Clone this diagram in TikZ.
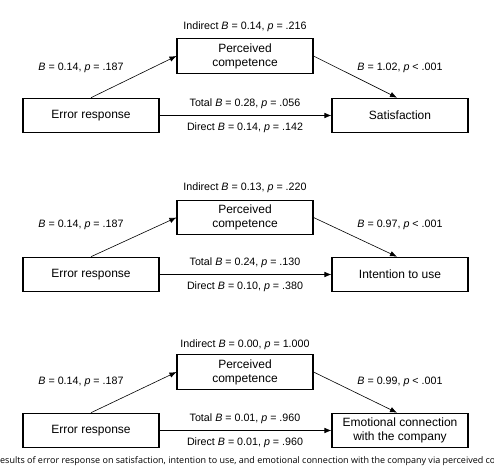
\documentclass[tikz,border=0pt]{standalone}
\usepackage{fontspec}
\setmainfont{Liberation Sans}
\newfontfamily\capfont{Open Sans}
\usetikzlibrary{arrows.meta}
\newcommand{\coef}[2]{\textit{B} = #1, \textit{p} #2}

\begin{document}
\begin{tikzpicture}[x=1pt,y=-1pt]
  \tikzset{box/.style={draw,line width=1.1pt,minimum width=136pt,minimum height=34.5pt,inner sep=2pt,align=center,font=\fontsize{12}{13.8}\selectfont},
           lab/.style={font=\fontsize{10.7}{12}\selectfont},
           arr/.style={-{Latex[length=7pt,width=5.5pt]},line width=0.6pt}}
  \clip (0,0) rectangle (494,465);
  % satisfaction
  \node[box] (ERa) at (91,115.5) {Error response};
  \node[box] (PCa) at (245,56) {Perceived\\competence};
  \node[box] (SAT) at (400,115.5) {Satisfaction};
  \node[lab] (INDa) at (245,27) {Indirect \coef{0.14}{= .216}};
  \node[lab] (APa) at (81,68) {\coef{0.14}{= .187}};
  \node[lab] (BPa) at (400,68) {\coef{1.02}{< .001}};
  \node[lab] (TOTa) at (245,104) {Total \coef{0.28}{= .056}};
  \node[lab] (DIRa) at (245,128) {Direct \coef{0.14}{= .142}};
  \draw[arr] (ERa.north) -- (PCa.west);
  \draw[arr] (PCa.east) -- ([xshift=-3pt]SAT.north);
  \draw[arr] (ERa) -- (SAT);
  % intention to use
  \begin{scope}[shift={(0,159)}]
  \node[box] (ERb) at (91,115.5) {Error response};
  \node[box] (PCb) at (245,58.5) {Perceived\\competence};
  \node[box] (INT) at (400,115.5) {Intention to use};
  \node[lab] (INDb) at (245,29) {Indirect \coef{0.13}{= .220}};
  \node[lab] (APb) at (81,66) {\coef{0.14}{= .187}};
  \node[lab] (BPb) at (400,66) {\coef{0.97}{< .001}};
  \node[lab] (TOTb) at (245,104) {Total \coef{0.24}{= .130}};
  \node[lab] (DIRb) at (245,128) {Direct \coef{0.10}{= .380}};
  \draw[arr] (ERb.north) -- (PCb.west);
  \draw[arr] (PCb.east) -- ([xshift=-3pt]INT.north);
  \draw[arr] (ERb) -- (INT);
  \end{scope}
  % emotional connection
  \begin{scope}[shift={(0,315)}]
  \node[box] (ERc) at (91,115.5) {Error response};
  \node[box] (PCc) at (245,57) {Perceived\\competence};
  \node[box] (EMO) at (400,115.5) {Emotional connection\\with the company};
  \node[lab] (INDc) at (245,30) {Indirect \coef{0.00}{= 1.000}};
  \node[lab] (APc) at (81,67) {\coef{0.14}{= .187}};
  \node[lab] (BPc) at (400,67) {\coef{0.99}{< .001}};
  \node[lab] (TOTc) at (245,104) {Total \coef{0.01}{= .960}};
  \node[lab] (DIRc) at (245,128) {Direct \coef{0.01}{= .960}};
  \draw[arr] (ERc.north) -- (PCc.west);
  \draw[arr] (PCc.east) -- ([xshift=-3pt]EMO.north);
  \draw[arr] (ERc) -- (EMO);
  \end{scope}
  \node[anchor=base west,inner sep=0pt,font=\capfont\fontsize{9}{10}\selectfont] (CAP) at (0,463.5) {esults of error response on satisfaction, intention to use, and emotional connection with the company via perceived co};
\end{tikzpicture}
\end{document}
